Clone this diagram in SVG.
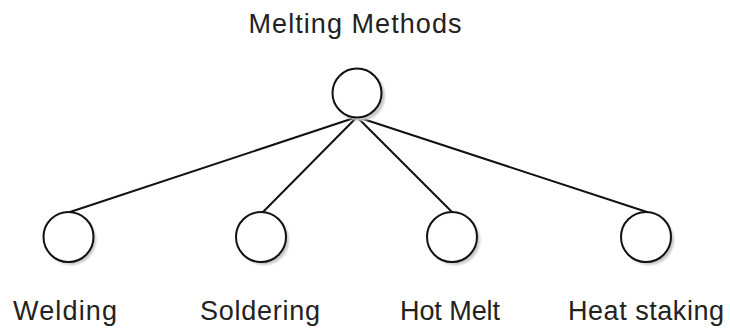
<svg xmlns="http://www.w3.org/2000/svg" width="730" height="329" viewBox="0 0 730 329">
  <defs>
    <filter id="soft" x="-30%" y="-30%" width="160%" height="160%">
      <feGaussianBlur stdDeviation="1.2"/>
    </filter>
  </defs>
  <style>
    .node { fill: #ffffff; stroke: #111111; stroke-width: 2; }
    .shadow { fill: #c8c8c8; filter: url(#soft); }
    .edge { stroke: #111111; stroke-width: 2; fill: none; stroke-linecap: round; }
    .label { font-family: "Liberation Sans", Arial, sans-serif; font-size: 27px; fill: #222222; text-anchor: middle; }
  </style>
  <rect width="730" height="329" fill="#ffffff"/>

  <g id="connectors">
    <line class="edge" x1="357" y1="117" x2="70" y2="212"/>
    <line class="edge" x1="357" y1="117" x2="263" y2="212"/>
    <line class="edge" x1="357" y1="117" x2="452" y2="212"/>
    <line class="edge" x1="357" y1="117" x2="647" y2="212"/>
  </g>

  <g id="melting-methods">
    <circle class="shadow" cx="360" cy="96" r="25"/>
    <circle class="node" cx="357" cy="93" r="24.5"/>
    <text class="label" x="355" y="33" textLength="213" lengthAdjust="spacing">Melting Methods</text>
  </g>

  <g id="welding">
    <circle class="shadow" cx="71" cy="240" r="25"/>
    <circle class="node" cx="68.5" cy="237" r="25"/>
    <text class="label" x="65" y="320" textLength="104" lengthAdjust="spacing">Welding</text>
  </g>

  <g id="soldering">
    <circle class="shadow" cx="264" cy="240" r="25"/>
    <circle class="node" cx="261" cy="237" r="25"/>
    <text class="label" x="260" y="320" textLength="120" lengthAdjust="spacing">Soldering</text>
  </g>

  <g id="hot-melt">
    <circle class="shadow" cx="455" cy="240" r="25"/>
    <circle class="node" cx="452" cy="237" r="25"/>
    <text class="label" x="450" y="320" textLength="100" lengthAdjust="spacing">Hot Melt</text>
  </g>

  <g id="heat-staking">
    <circle class="shadow" cx="649" cy="240" r="25"/>
    <circle class="node" cx="646" cy="237" r="25"/>
    <text class="label" x="646" y="320" textLength="156" lengthAdjust="spacing">Heat staking</text>
  </g>
</svg>
